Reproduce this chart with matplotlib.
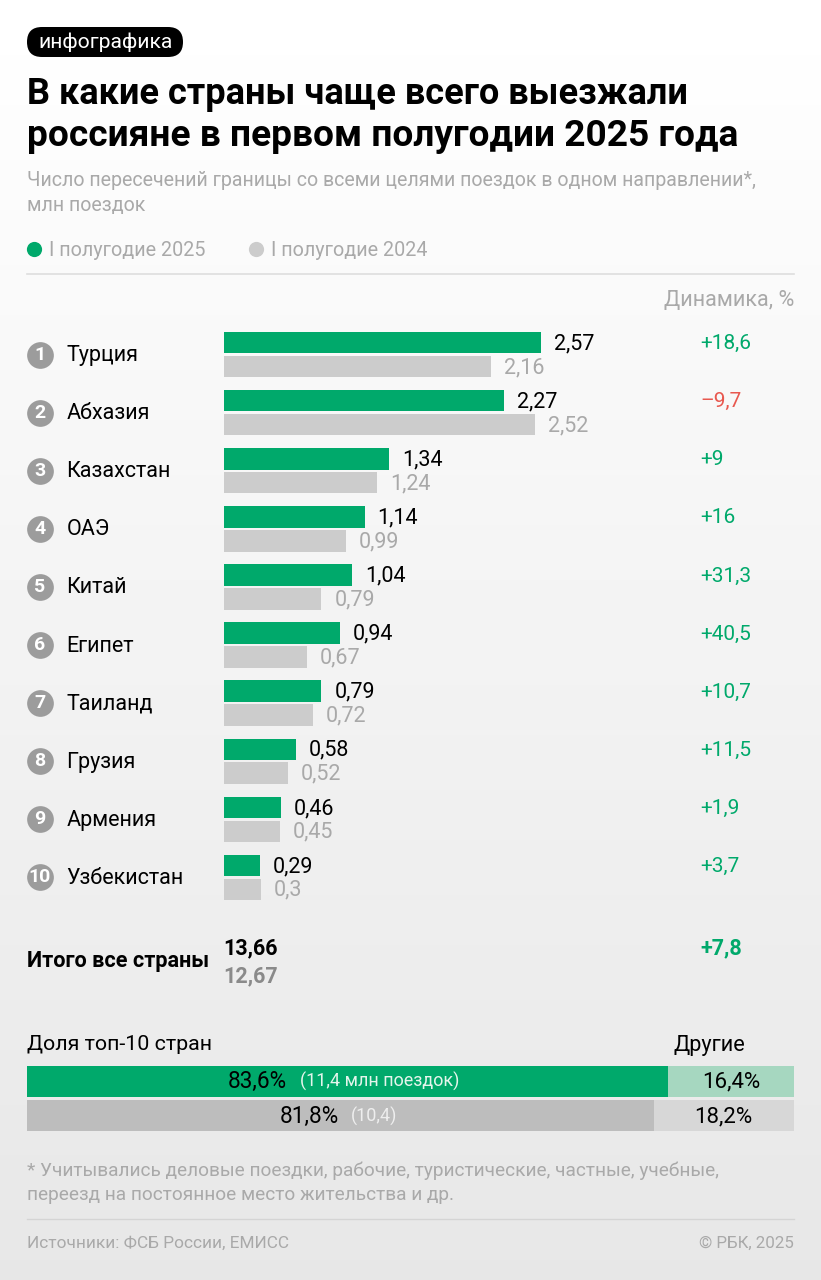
import numpy as np
import matplotlib
matplotlib.use("Agg")
import matplotlib.pyplot as plt
from matplotlib.patches import FancyBboxPatch

W, H = 821, 1280

# data
countries = ["Турция", "Абхазия", "Казахстан", "ОАЭ", "Китай", "Египет", "Таиланд", "Грузия", "Армения", "Узбекистан"]
trips_2025 = [2.57, 2.27, 1.34, 1.14, 1.04, 0.94, 0.79, 0.58, 0.46, 0.29]
trips_2024 = [2.16, 2.52, 1.24, 0.99, 0.79, 0.67, 0.72, 0.52, 0.45, 0.3]
change = ["+18,6", "–9,7", "+9", "+16", "+31,3", "+40,5", "+10,7", "+11,5", "+1,9", "+3,7"]
total_2025 = "13,66"
total_2024 = "12,67"
total_change = "+7,8"
share_top = [83.6, 81.8]
share_other = [16.4, 18.2]
share_trips = ["(11,4 млн поездок)", "(10,4)"]

GREEN = "#00a96b"
GRAY = "#cccccc"
RED = "#e8584f"
MUTED = "#a9a9a9"

plt.rcParams["font.family"] = ["Roboto", "DejaVu Sans"]

fig = plt.figure(figsize=(W / 100, H / 100), dpi=100)


def px_axes(left, top, right, bottom, z=1):
    a = fig.add_axes([left / W, 1 - bottom / H, (right - left) / W, (bottom - top) / H], zorder=z)
    a.patch.set_alpha(0)
    a.axis("off")
    return a


# background gradient sits under everything
back = px_axes(0, 0, W, H, z=0)
grad = np.linspace(1, 0.905, 256).reshape(-1, 1)
back.imshow(grad, aspect="auto", cmap="gray", vmin=0, vmax=1)

# text and decoration layer in pixel coords, above the bars
top = px_axes(0, 0, W, H, z=2)
top.set_xlim(0, W)
top.set_ylim(H, 0)


def txt(x, y, s, size=15, color="black", ha="left", weight="normal"):
    top.text(x, y + 1, s, fontsize=size, color=color, ha=ha, va="center", fontweight=weight)


# header
top.add_patch(FancyBboxPatch((27, 27), 156, 30, boxstyle="round,pad=0,rounding_size=15", fc="black", ec="none"))
txt(105.5, 41, "инфографика", size=15.2, color="white", ha="center")

txt(27, 92.5, "В какие страны чаще всего выезжали", size=26, weight="bold")
txt(27, 134.5, "россияне в первом полугодии 2025 года", size=26.7, weight="bold")
txt(27, 180, "Число пересечений границы со всеми целями поездок в одном направлении*,", size=14.1, color=MUTED)
txt(27, 205, "млн поездок", size=14.1, color=MUTED)

top.scatter([34], [249], s=120, color=GREEN, lw=0)
txt(49, 249, "I полугодие 2025", size=14.2, color=MUTED)
top.scatter([256], [249], s=120, color=GRAY, lw=0)
txt(271, 249, "I полугодие 2024", size=14.2, color=MUTED)
top.plot([27, 794], [274, 274], color="#dedede", lw=1.2)
txt(794, 299, "Динамика, %", size=15.6, color=MUTED, ha="right")

# main bars: one row per country, rows 58 px apart
row_top = 325.5
row_h = 58.1
ax = px_axes(224, row_top, 224 + 3 * 123.4, row_top + 10 * row_h)
ax.set_xlim(0, 3)
ax.set_ylim(9.5, -0.5)
ypos = np.arange(len(countries))
ax.barh(ypos - 0.205, trips_2025, height=0.37, color=GREEN)
ax.barh(ypos + 0.205, trips_2024, height=0.37, color=GRAY)

for i, name in enumerate(countries):
    y = row_top + (i + 0.5) * row_h
    top.scatter([40], [y], s=370, color="#9c9c9c", lw=0)
    txt(40, y - 1, str(i + 1), size=14, color="white", ha="center", weight="bold")
    txt(66.5, y, name, size=15.5)
    ax.annotate(f"{trips_2025[i]:g}".replace(".", ","), (trips_2025[i], i - 0.205), xytext=(13, -1),
                textcoords="offset pixels", va="center", fontsize=15.5, color="black")
    ax.annotate(f"{trips_2024[i]:g}".replace(".", ","), (trips_2024[i], i + 0.205), xytext=(13, -1),
                textcoords="offset pixels", va="center", fontsize=15.5, color=MUTED)
    txt(700, y - 12, change[i], size=15, color=RED if change[i].startswith("–") else GREEN)

# totals
txt(27, 960, "Итого все страны", size=15.6, weight="bold")
txt(223.5, 947, total_2025, size=15.5, weight="bold")
txt(223.5, 975, total_2024, size=15.5, color="#8a8a8a", weight="bold")
txt(700, 947, total_change, size=15.5, color=GREEN, weight="bold")

# top-10 share bars
txt(27, 1044, "Доля топ-10 стран", size=15.4)
txt(673, 1044, "Другие", size=15.6)
ax2 = px_axes(27, 1065, 794, 1132)
ax2.set_xlim(0, 100)
ax2.set_ylim(1.5, -0.5)
ax2.barh([0, 1], share_top, height=0.92, color=[GREEN, "#bdbdbd"])
ax2.barh([0, 1], share_other, left=share_top, height=0.92, color=["#a6d7c0", "#d7d7d7"])

txt(287, 1080.5, "83,6%", size=16.3, ha="right")
txt(300, 1080.5, share_trips[0], size=13, color="#e4f5ec")
txt(339, 1115.5, "81,8%", size=16.3, ha="right")
txt(351, 1115.5, share_trips[1], size=13, color="#eeeeee")
txt(731, 1080.5, "16,4%", size=16, ha="center")
txt(723.5, 1115.5, "18,2%", size=16, ha="center")

# footer
txt(27, 1170, "* Учитывались деловые поездки, рабочие, туристические, частные, учебные,", size=13.65, color=MUTED)
txt(27, 1194, "переезд на постоянное место жительства и др.", size=13.65, color=MUTED)
top.plot([27, 794], [1219, 1219], color="#d4d4d4", lw=1)
txt(27, 1242, "Источники: ФСБ России, ЕМИСС", size=12.4, color=MUTED)
txt(794, 1242, "© РБК, 2025", size=12.2, color=MUTED, ha="right")

fig.savefig("out.png", dpi=100)
